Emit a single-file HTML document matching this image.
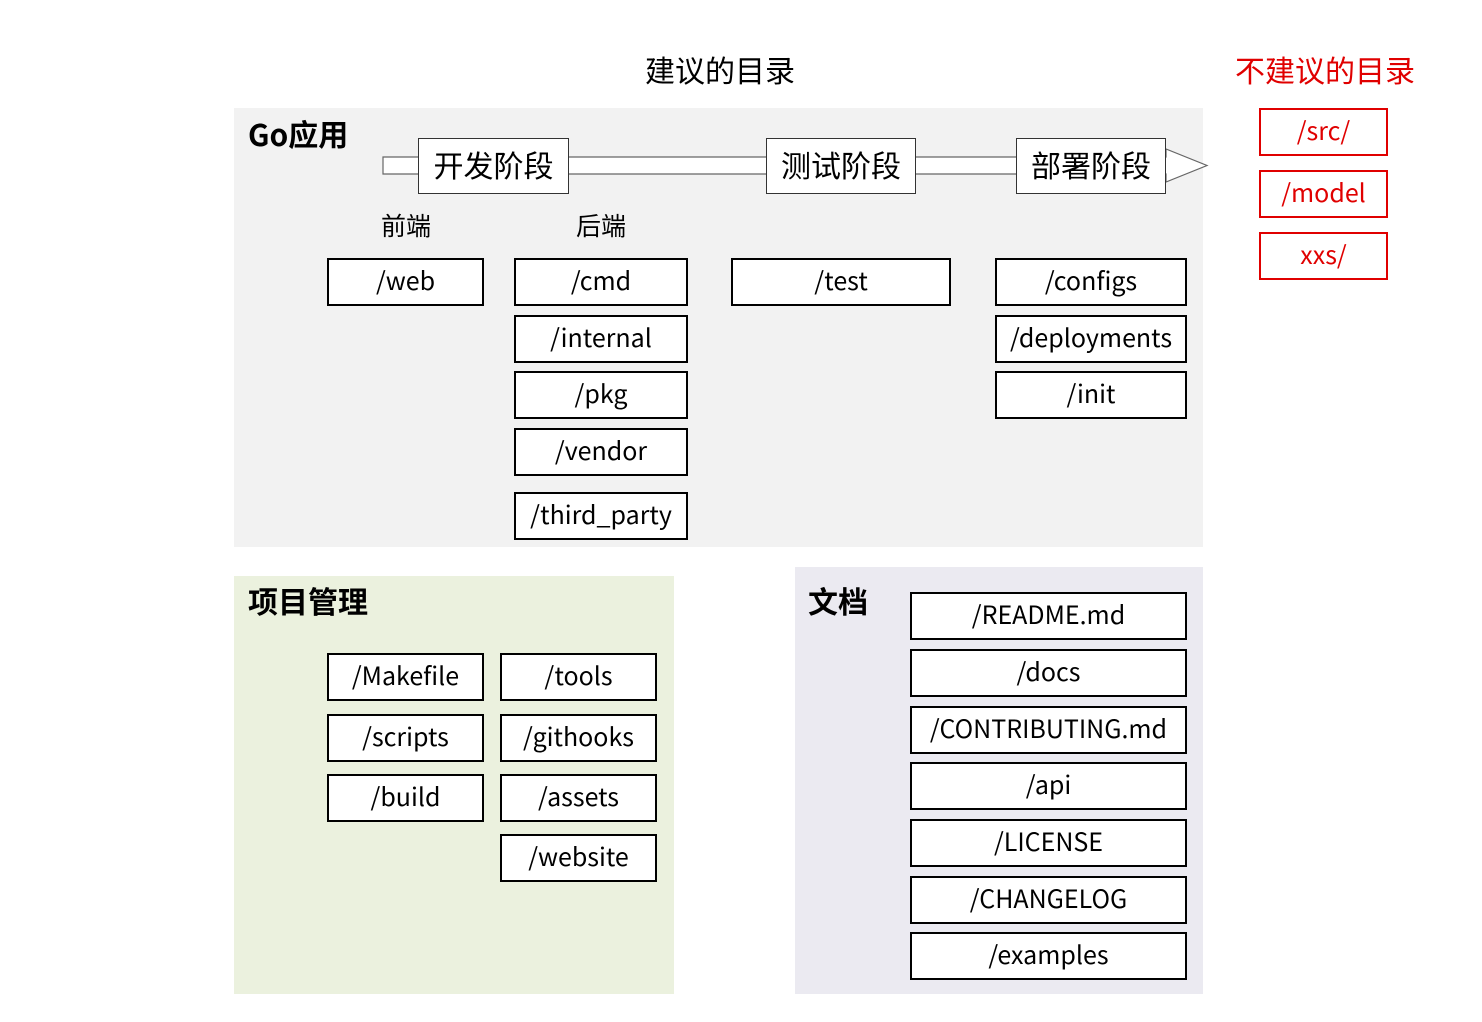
<!DOCTYPE html>
<html><head><meta charset="utf-8"><style>
body{margin:0;width:1482px;height:1022px;background:#fff;position:relative;overflow:hidden;font-family:"Noto Sans CJK SC","Liberation Sans",sans-serif;}
div{position:absolute;box-sizing:border-box;}
.b{background:#fff;border:2px solid #000;display:flex;align-items:center;justify-content:center;font-size:25px;color:#000;white-space:nowrap;line-height:1;padding-bottom:4px;}
.r{border-color:#e00000;color:#e00000;}
.t{font-size:30px;line-height:1;white-space:nowrap;}
.h{font-size:30px;font-weight:bold;line-height:1;white-space:nowrap;}
.s{font-size:25px;line-height:1;white-space:nowrap;}
.p{border:1.5px solid #333;font-size:30px;}
</style></head><body>
<div class="t" style="left:645px;top:54px;">建议的目录</div>
<div class="t" style="left:1235px;top:54px;color:#e00000;">不建议的目录</div>

<div style="left:234px;top:108px;width:969px;height:439px;background:#f2f2f2;"></div>
<div style="left:234px;top:576px;width:440px;height:418px;background:#ebf1de;"></div>
<div style="left:795px;top:567px;width:408px;height:427px;background:#ebeaf1;"></div>

<svg style="position:absolute;left:0;top:0" width="1482" height="1022">
<polygon points="383,157 1166,157 1166,149 1207,165.5 1166,182 1166,174 383,174" fill="#fff" stroke="#666" stroke-width="1.2"/>
</svg>

<div class="h" style="left:248px;top:118px;">Go应用</div>
<div class="h" style="left:248px;top:585px;">项目管理</div>
<div class="h" style="left:808px;top:585px;">文档</div>
<div class="s" style="left:381px;top:213px;">前端</div>
<div class="s" style="left:576px;top:213px;">后端</div>

<div class="b p" style="left:418px;top:138px;width:151px;height:56px;">开发阶段</div>
<div class="b p" style="left:766px;top:138px;width:150px;height:56px;">测试阶段</div>
<div class="b p" style="left:1016px;top:138px;width:150px;height:56px;">部署阶段</div>

<div class="b" style="left:327px;top:258px;width:157px;height:48px;">/web</div>
<div class="b" style="left:514px;top:258px;width:174px;height:48px;">/cmd</div>
<div class="b" style="left:514px;top:315px;width:174px;height:48px;">/internal</div>
<div class="b" style="left:514px;top:371px;width:174px;height:48px;">/pkg</div>
<div class="b" style="left:514px;top:428px;width:174px;height:48px;">/vendor</div>
<div class="b" style="left:514px;top:492px;width:174px;height:48px;">/third_party</div>
<div class="b" style="left:731px;top:258px;width:220px;height:48px;">/test</div>
<div class="b" style="left:995px;top:258px;width:192px;height:48px;">/configs</div>
<div class="b" style="left:995px;top:315px;width:192px;height:48px;">/deployments</div>
<div class="b" style="left:995px;top:371px;width:192px;height:48px;">/init</div>

<div class="b r" style="left:1259px;top:108px;width:129px;height:48px;">/src/</div>
<div class="b r" style="left:1259px;top:170px;width:129px;height:48px;">/model</div>
<div class="b r" style="left:1259px;top:232px;width:129px;height:48px;">xxs/</div>

<div class="b" style="left:327px;top:653px;width:157px;height:48px;">/Makefile</div>
<div class="b" style="left:327px;top:714px;width:157px;height:48px;">/scripts</div>
<div class="b" style="left:327px;top:774px;width:157px;height:48px;">/build</div>
<div class="b" style="left:500px;top:653px;width:157px;height:48px;">/tools</div>
<div class="b" style="left:500px;top:714px;width:157px;height:48px;">/githooks</div>
<div class="b" style="left:500px;top:774px;width:157px;height:48px;">/assets</div>
<div class="b" style="left:500px;top:834px;width:157px;height:48px;">/website</div>

<div class="b" style="left:910px;top:592px;width:277px;height:48px;">/README.md</div>
<div class="b" style="left:910px;top:649px;width:277px;height:48px;">/docs</div>
<div class="b" style="left:910px;top:706px;width:277px;height:48px;">/CONTRIBUTING.md</div>
<div class="b" style="left:910px;top:762px;width:277px;height:48px;">/api</div>
<div class="b" style="left:910px;top:819px;width:277px;height:48px;">/LICENSE</div>
<div class="b" style="left:910px;top:876px;width:277px;height:48px;">/CHANGELOG</div>
<div class="b" style="left:910px;top:932px;width:277px;height:48px;">/examples</div>
</body></html>
